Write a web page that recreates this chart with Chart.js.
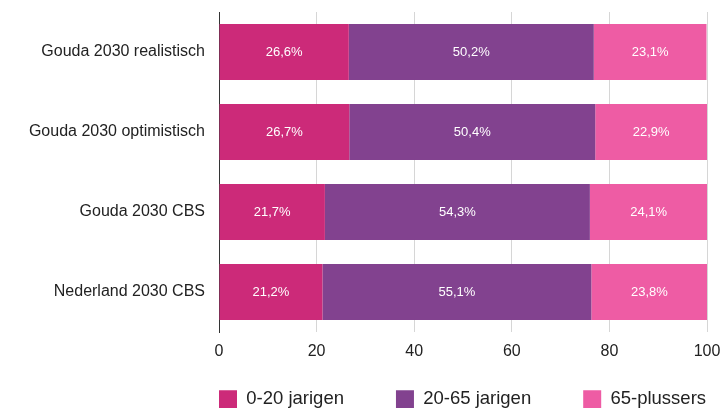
<!DOCTYPE html>
<html>
<head>
<meta charset="utf-8">
<script src="https://cdn.jsdelivr.net/npm/chart.js@4/dist/chart.umd.min.js"></script>
<style>
  html, body { margin: 0; padding: 0; background: #fff; }
</style>
</head>
<body>
<canvas id="mychart" width="722" height="408"></canvas>
<script>
const regios = ['Gouda 2030 realistisch', 'Gouda 2030 optimistisch', 'Gouda 2030 CBS', 'Nederland 2030 CBS']
const jong = [26.6, 26.7, 21.7, 21.2]
const midden = [50.2, 50.4, 54.3, 55.1]
const oud = [23.1, 22.9, 24.1, 23.8]
const xTicks = [0, 20, 40, 60, 80, 100]

const lettertype = '"Liberation Sans", Arial, Helvetica, sans-serif'

// percentages in de balken
const waardeLabels = {
    id: 'waardeLabels',
    afterDatasetsDraw(chart) {
        const ctx = chart.ctx
        ctx.save()
        ctx.font = '13px ' + lettertype
        ctx.fillStyle = '#fff'
        ctx.textAlign = 'center'
        ctx.textBaseline = 'middle'
        chart.data.datasets.forEach((ds, i) => {
            chart.getDatasetMeta(i).data.forEach((bar, j) => {
                const p = bar.getCenterPoint()
                ctx.fillText(ds.data[j].toFixed(1).replace('.', ',') + '%', p.x, p.y)
            })
        })
        ctx.restore()
    }
}

// legenda onder de grafiek, links gelijk met het plotvlak
const legendaPlek = {
    id: 'legendaPlek',
    beforeLayout(chart) {
        const lg = chart.legend
        if (lg && !lg._vast) {
            const fit = lg.fit
            lg.fit = function () { fit.call(this); this.height = 36 }
            lg._vast = true
        }
    },
    afterLayout(chart) {
        const lg = chart.legend
        const pad = lg.options.labels.padding
        lg.left = chart.chartArea.left - pad
        lg.right = 2000
        lg.top = 390 - pad
    }
}

var ctx = document.getElementById('mychart').getContext('2d')
const chart = new Chart(ctx, {
    type: 'bar',
    data: {
        labels: regios,
        datasets: [
            { label: '0-20 jarigen', data: jong, backgroundColor: '#cc2a79' },
            { label: '20-65 jarigen', data: midden, backgroundColor: '#82428f' },
            { label: '65-plussers', data: oud, backgroundColor: '#ee5ca4' }
        ]
    },
    options: {
        indexAxis: 'y',
        responsive: false,
        animation: false,
        devicePixelRatio: 1,
        barPercentage: 0.7,
        categoryPercentage: 1,
        layout: { padding: { top: 12, right: 15, left: 0, bottom: 0 } },
        scales: {
            x: {
                stacked: true,
                min: 0,
                max: 100,
                afterBuildTicks: s => { s.ticks = xTicks.map(v => ({ value: v })) },
                afterFit: s => { s.height = 40; s.paddingLeft = 0; s.paddingRight = 0 },
                grid: { color: '#d6d6d6', drawTicks: false },
                border: { display: false },
                ticks: { color: '#222', padding: 10, font: { size: 16, family: lettertype } }
            },
            y: {
                stacked: true,
                afterFit: s => { s.width = 219; s.paddingTop = 0; s.paddingBottom = 0 },
                grid: { display: false, drawTicks: false },
                border: { display: true, color: '#333', width: 1 },
                ticks: { color: '#222', padding: 14, font: { size: 16, family: lettertype } }
            }
        },
        plugins: {
            tooltip: { enabled: false },
            legend: {
                position: 'bottom',
                align: 'start',
                labels: {
                    boxWidth: 18,
                    boxHeight: 18,
                    padding: 52,
                    color: '#222',
                    font: { size: 18.5, family: lettertype }
                }
            }
        }
    },
    plugins: [waardeLabels, legendaPlek]
})
</script>
</body>
</html>
